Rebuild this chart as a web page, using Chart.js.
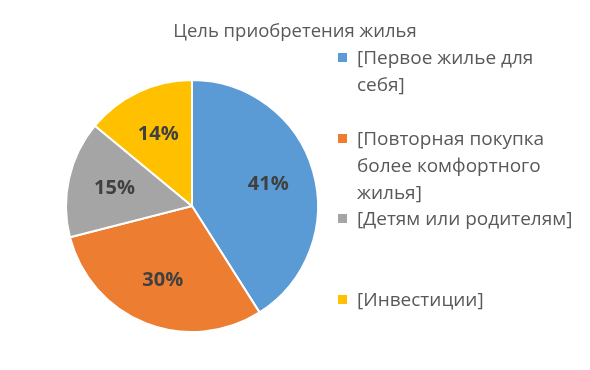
<!DOCTYPE html>
<html>
<head>
<meta charset="utf-8">
<script src="https://cdn.jsdelivr.net/npm/chart.js@4"></script>
<style>
  body{margin:0;background:#fff;}
  #wrap{position:relative;width:590px;height:370px;}
  #legend{position:absolute;left:338px;top:0;width:252px;font-family:"Open Sans",sans-serif;font-size:19px;color:#595959;}
  .item{position:absolute;left:0;line-height:27px;white-space:nowrap;}
  .box{position:absolute;left:0;top:9px;width:9px;height:9px;}
  .txt{position:absolute;left:19px;top:0;}
</style>
</head>
<body>
<div id="wrap">
  <canvas id="chart" width="590" height="370"></canvas>
  <div id="legend"></div>
</div>
<script>
const title = "Цель приобретения жилья";
const categories = ["[Первое жилье для себя]", "[Повторная покупка более комфортного жилья]", "[Детям или родителям]", "[Инвестиции]"];
// how the legend wraps each category
const legendLines = [["[Первое жилье для", "себя]"], ["[Повторная покупка", "более комфортного", "жилья]"], ["[Детям или родителям]"], ["[Инвестиции]"]];
const values = [41, 30, 15, 14];
const colors = ['#5B9BD5', '#ED7D31', '#A5A5A5', '#FFC000'];

// percent labels inside slices + title centred on the whole canvas
const pctLabels = {
    id: 'pctLabels',
    afterDatasetsDraw(chart){
        const ctx = chart.ctx;
        const meta = chart.getDatasetMeta(0);
        const total = values.reduce((a,b)=>a+b,0);
        ctx.save();
        ctx.font = 'bold 20px "Open Sans", sans-serif';
        ctx.fillStyle = '#404040';
        ctx.textAlign = 'center';
        ctx.textBaseline = 'middle';
        meta.data.forEach((arc, i) => {
            const p = arc.getProps(['x','y','startAngle','endAngle','outerRadius'], true);
            const mid = (p.startAngle + p.endAngle) / 2;
            const r = p.outerRadius * 0.63;
            ctx.fillText(Math.round(values[i] / total * 100) + '%', p.x + Math.cos(mid) * r, p.y + Math.sin(mid) * r);
        });
        ctx.font = '18.5px "Open Sans", sans-serif';
        ctx.fillStyle = '#595959';
        ctx.fillText(title, chart.width / 2, 32);
        ctx.restore();
    }
};

const ctx = document.getElementById('chart').getContext('2d');
const chart = new Chart(ctx, {
    type: 'pie',
    data: { labels: categories, datasets: [{ data: values, backgroundColor: colors, borderColor: '#fff', borderWidth: 2 }] },
    options: {
        responsive: false,
        animation: false,
        layout: { padding: { left: 65, right: 271, top: 79, bottom: 37 } },
        plugins: {
            legend: { display: false },
            tooltip: { enabled: false },
            title: { display: false }
        }
    },
    plugins: [pctLabels]
});

// legend slots, one every ~80px
let html = '';
legendLines.forEach((lines, i) => {
    const top = 44 + i * 80.5;
    html += `<div class="item" style="top:${top}px">
        <div class="box" style="background:${colors[i]}"></div>
        <div class="txt">${lines.join('<br>')}</div>
    </div>`;
});
document.getElementById('legend').innerHTML = html;
</script>
</body>
</html>
